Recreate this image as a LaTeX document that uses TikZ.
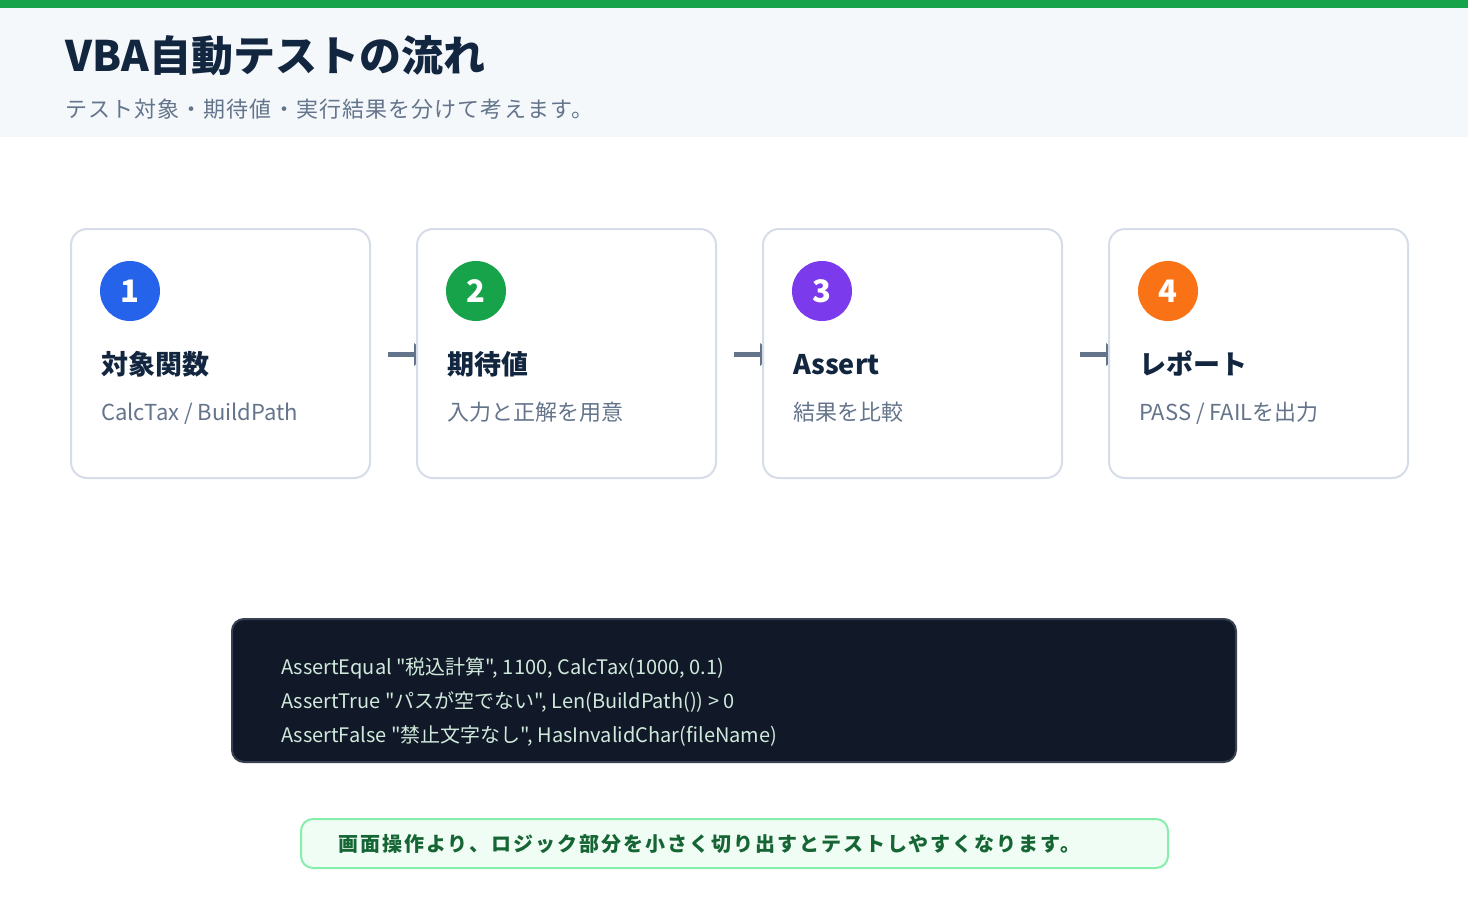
\documentclass[tikz,border=0pt]{standalone}
\usepackage{fontspec}
\setmainfont{Noto Sans CJK JP}
\newfontfamily\codefont{Noto Sans CJK JP}[Ligatures=TeXOff]
\usetikzlibrary{arrows.meta}
\pgfdeclarelayer{background}
\pgfsetlayers{background,main}
\definecolor{topgreen}{HTML}{16A34A}
\definecolor{headbg}{HTML}{F4F8FB}
\definecolor{navy}{HTML}{12263F}
\definecolor{slate}{HTML}{64748B}
\definecolor{cardline}{HTML}{D6DCE8}
\definecolor{cblue}{HTML}{2563EB}
\definecolor{cgreen}{HTML}{16A34A}
\definecolor{cpurple}{HTML}{7C3AED}
\definecolor{corange}{HTML}{F97316}
\definecolor{codebg}{HTML}{111827}
\definecolor{codeline}{HTML}{374151}
\definecolor{codetext}{HTML}{CFE9DC}
\definecolor{notebg}{HTML}{F0FDF4}
\definecolor{noteline}{HTML}{86EFAC}
\definecolor{notetext}{HTML}{166534}
\tikzset{
  card/.style={draw=cardline, line width=2pt, fill=white, rounded corners=16pt,
    minimum width=299pt, minimum height=249pt, inner sep=0pt, outer sep=0pt},
  badge/.style={circle, minimum size=60pt, inner sep=0pt, text=white,
    font=\fontsize{31}{36}\selectfont\bfseries},
  cardtitle/.style={anchor=base west, inner sep=0pt, text=navy,
    font=\fontsize{27}{31}\selectfont\bfseries},
  cardsub/.style={anchor=base west, inner sep=0pt, text=slate,
    font=\fontsize{22}{26}\selectfont},
  flowarrow/.style={draw=slate, line width=5pt, -{Triangle[length=14pt,width=22pt]}},
  codebox/.style={fill=codebg, draw=codeline, line width=2pt, rounded corners=12pt,
    minimum width=1004pt, minimum height=143pt, inner sep=0pt},
  codetxt/.style={anchor=base west, inner sep=0pt, text=codetext,
    font=\codefont\fontsize{20}{24}\selectfont},
  notebox/.style={fill=notebg, draw=noteline, line width=2pt, rounded corners=12pt,
    minimum width=867pt, minimum height=49pt, inner sep=0pt},
}
\begin{document}
\begin{tikzpicture}[x=1pt,y=-1pt]
\useasboundingbox (0,0) rectangle (1468,900);
\begin{pgfonlayer}{background}
\fill[white] (0,0) rectangle (1468,900);
\fill[headbg] (0,8) rectangle (1468,137);
\fill[topgreen] (0,0) rectangle (1468,8);
\end{pgfonlayer}
% header
\node[anchor=base west, inner sep=0pt, text=navy, font=\fontsize{42}{48}\selectfont\bfseries] (title) at (65,71) {VBA自動テストの流れ};
\node[anchor=base west, inner sep=0pt, text=slate, font=\fontsize{22}{26}\selectfont\addfontfeatures{LetterSpace=5}] (subtitle) at (65,117) {テスト対象・期待値・実行結果を分けて考えます。};
% cards
\node[card] (c1) at (220.5,353.5) {};
\node[card] (c2) at (566.5,353.5) {};
\node[card] (c3) at (912.5,353.5) {};
\node[card] (c4) at (1258.5,353.5) {};
\foreach \c/\n/\col/\t/\s in {c1/1/cblue/対象関数/{CalcTax / BuildPath},
                               c2/2/cgreen/期待値/入力と正解を用意,
                               c3/3/cpurple/Assert/結果を比較,
                               c4/4/corange/レポート/{PASS / FAILを出力}}{
  \path (\c.north west) ++(59,62) node[badge, fill=\col] (\c-badge) {\n};
  \path (\c.north west) ++(30,145) node[cardtitle] (\c-title) {\t};
  \path (\c.north west) ++(30,191) node[cardsub] (\c-sub) {\s};
}
\begin{pgfonlayer}{background}
\draw[flowarrow] ([xshift=18pt,yshift=-1pt]c1.east) -- ([xshift=11pt,yshift=-1pt]c2.west);
\draw[flowarrow] ([xshift=18pt,yshift=-1pt]c2.east) -- ([xshift=11pt,yshift=-1pt]c3.west);
\draw[flowarrow] ([xshift=18pt,yshift=-1pt]c3.east) -- ([xshift=11pt,yshift=-1pt]c4.west);
\end{pgfonlayer}
% code block
\node[codebox] (code) at (734,690.5) {};
\node[codetxt] (cl1) at (281,674) {AssertEqual "税込計算", 1100, CalcTax(1000, 0.1)};
\node[codetxt] (cl2) at (281,708) {AssertTrue "パスが空でない", Len(BuildPath()) > 0};
\node[codetxt] (cl3) at (281,742) {AssertFalse "禁止文字なし", HasInvalidChar(fileName)};
% note
\node[notebox] (note) at (734.5,843.5) {};
\node[anchor=base west, inner sep=0pt, text=notetext, font=\fontsize{20}{24}\selectfont\bfseries\addfontfeatures{LetterSpace=10}] (notetxt) at (338,851) {画面操作より、ロジック部分を小さく切り出すとテストしやすくなります。};
\end{tikzpicture}
\end{document}
